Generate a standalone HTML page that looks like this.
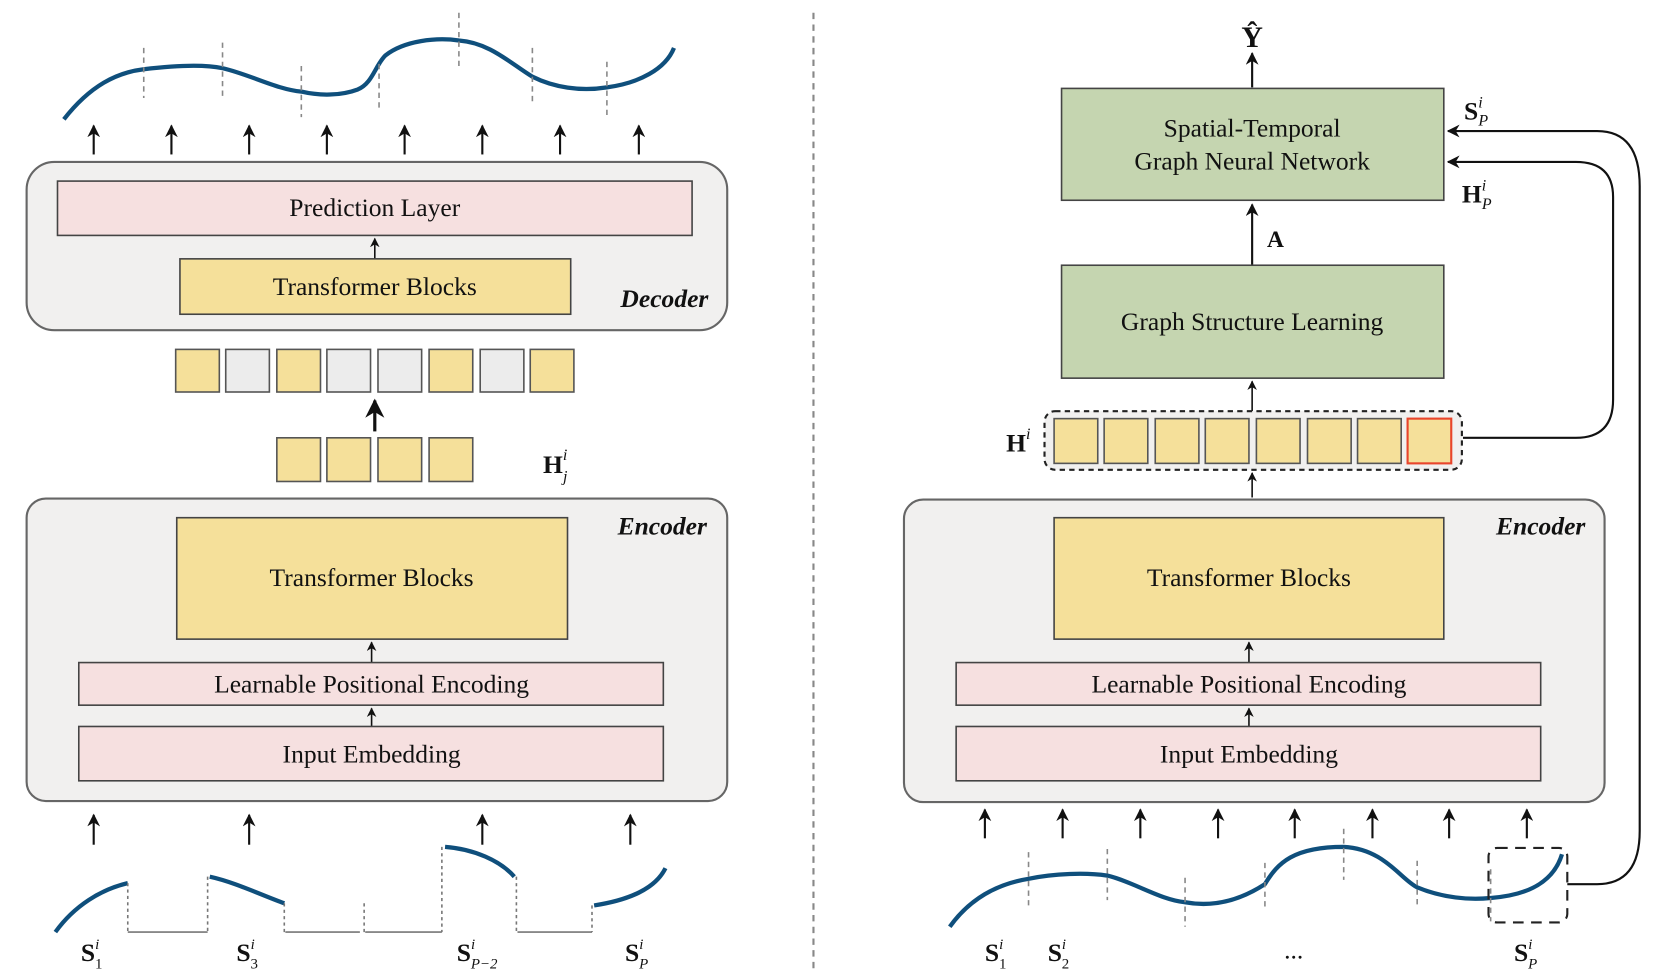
<!DOCTYPE html>
<html><head><meta charset="utf-8"><style>
html,body{margin:0;padding:0;background:#fff;}
svg{display:block;}
text{font-family:"Liberation Serif",serif;fill:#111;}
</style></head><body>
<svg width="1661" height="980" viewBox="0 0 1560 920" preserveAspectRatio="none" xmlns="http://www.w3.org/2000/svg">
<defs>
<marker id="ah" viewBox="0 0 10 10" refX="9" refY="5" markerWidth="6" markerHeight="6" orient="auto-start-reverse"><path d="M0,0 L10,5 L0,10 L3,5 z" fill="#111"/></marker>
</defs>
<g stroke="#111" stroke-width="2" fill="none">
<line x1="764" y1="12" x2="764" y2="912" stroke="#888" stroke-dasharray="6,5"/>
</g>

<path d="M60,112 C85,80 110,68 135,65 C160,62 190,60 209,64 C235,70 260,84 283,86 C300,90 320,90 336,84 C350,78 352,62 362,52 C380,38 410,35 431,38 C460,40 480,60 500,72 C520,82 545,86 570,82 C600,78 625,65 633,45" stroke="#0f4f7c" stroke-width="4" fill="none"/>
<g stroke="#888" stroke-width="1.5" stroke-dasharray="5,4">
<line x1="135" y1="45" x2="135" y2="92"/><line x1="209" y1="40" x2="209" y2="90"/><line x1="283" y1="62" x2="283" y2="110"/><line x1="356" y1="60" x2="356" y2="105"/><line x1="431" y1="12" x2="431" y2="65"/><line x1="500" y1="45" x2="500" y2="97"/><line x1="570" y1="58" x2="570" y2="112"/>
</g>
<g stroke="#111" stroke-width="2" marker-end="url(#ah)">
<line x1="88" y1="145" x2="88" y2="118"/><line x1="161" y1="145" x2="161" y2="118"/><line x1="234" y1="145" x2="234" y2="118"/><line x1="307" y1="145" x2="307" y2="118"/><line x1="380" y1="145" x2="380" y2="118"/><line x1="453" y1="145" x2="453" y2="118"/><line x1="526" y1="145" x2="526" y2="118"/><line x1="600" y1="145" x2="600" y2="118"/>
</g>
<rect x="25" y="152" width="658" height="158" rx="26" fill="#f1f0ef" stroke="#666" stroke-width="2"/>
<rect x="54" y="170" width="596" height="51" fill="#f6e0e0" stroke="#444" stroke-width="1.5"/>
<text x="352" y="203" font-size="24" text-anchor="middle">Prediction Layer</text>
<line x1="352" y1="243" x2="352" y2="224" stroke="#111" stroke-width="1.5" marker-end="url(#ah)"/>
<rect x="169" y="243" width="367" height="52" fill="#f5e09a" stroke="#444" stroke-width="1.5"/>
<text x="352" y="277" font-size="24" text-anchor="middle">Transformer Blocks</text>
<text x="624" y="288" font-size="24" font-style="italic" font-weight="bold" text-anchor="middle">Decoder</text>
<g stroke="#555" stroke-width="1.5">
<rect x="165" y="328" width="41" height="40" fill="#f5e09a"/><rect x="212" y="328" width="41" height="40" fill="#ececec"/><rect x="260" y="328" width="41" height="40" fill="#f5e09a"/><rect x="307" y="328" width="41" height="40" fill="#ececec"/><rect x="355" y="328" width="41" height="40" fill="#ececec"/><rect x="403" y="328" width="41" height="40" fill="#f5e09a"/><rect x="451" y="328" width="41" height="40" fill="#ececec"/><rect x="498" y="328" width="41" height="40" fill="#f5e09a"/>
<rect x="260" y="411" width="41" height="41" fill="#f5e09a"/><rect x="307" y="411" width="41" height="41" fill="#f5e09a"/><rect x="355" y="411" width="41" height="41" fill="#f5e09a"/><rect x="403" y="411" width="41" height="41" fill="#f5e09a"/>
</g>
<line x1="352" y1="405" x2="352" y2="376" stroke="#111" stroke-width="3" marker-end="url(#ah)"/>
<text x="510" y="444" font-size="24" font-weight="bold">H<tspan font-size="15" font-style="italic" font-weight="normal" dy="-12">i</tspan><tspan font-size="15" font-style="italic" font-weight="normal" dx="-4" dy="20">j</tspan></text>
<rect x="25" y="468" width="658" height="284" rx="18" fill="#f1f0ef" stroke="#666" stroke-width="2"/>
<rect x="166" y="486" width="367" height="114" fill="#f5e09a" stroke="#444" stroke-width="1.5"/>
<text x="349" y="550" font-size="24" text-anchor="middle">Transformer Blocks</text>
<line x1="349" y1="622" x2="349" y2="603" stroke="#111" stroke-width="1.5" marker-end="url(#ah)"/>
<rect x="74" y="622" width="549" height="40" fill="#f6e0e0" stroke="#444" stroke-width="1.5"/>
<text x="349" y="650" font-size="24" text-anchor="middle">Learnable Positional Encoding</text>
<line x1="349" y1="682" x2="349" y2="665" stroke="#111" stroke-width="1.5" marker-end="url(#ah)"/>
<rect x="74" y="682" width="549" height="51" fill="#f6e0e0" stroke="#444" stroke-width="1.5"/>
<text x="349" y="716" font-size="24" text-anchor="middle">Input Embedding</text>
<text x="622" y="502" font-size="24" font-style="italic" font-weight="bold" text-anchor="middle">Encoder</text>
<g stroke="#111" stroke-width="2" marker-end="url(#ah)">
<line x1="88" y1="793" x2="88" y2="765"/><line x1="234" y1="793" x2="234" y2="765"/><line x1="453" y1="793" x2="453" y2="765"/><line x1="592" y1="793" x2="592" y2="765"/>
</g>
<g stroke="#0f4f7c" stroke-width="4" fill="none">
<path d="M52,875 C70,850 95,835 120,829"/>
<path d="M197,823 C220,828 245,840 267,848"/>
<path d="M418,795 C445,797 470,808 483,823"/>
<path d="M558,850 C590,845 615,835 625,815"/>
</g>
<g stroke="#777" stroke-width="1.5" fill="none">
<line x1="120" y1="875" x2="195" y2="875"/><line x1="268" y1="875" x2="338" y2="875"/><line x1="343" y1="875" x2="415" y2="875"/><line x1="486" y1="875" x2="556" y2="875"/>
<g stroke-dasharray="3,3"><line x1="120" y1="829" x2="120" y2="875"/><line x1="195" y1="823" x2="195" y2="875"/><line x1="267" y1="848" x2="267" y2="875"/><line x1="342" y1="848" x2="342" y2="875"/><line x1="415" y1="795" x2="415" y2="875"/><line x1="485" y1="823" x2="485" y2="875"/><line x1="556" y1="850" x2="556" y2="875"/></g>
</g>
<g font-size="24" font-weight="bold">
<text x="76" y="902">S<tspan font-size="14" font-style="italic" font-weight="normal" dy="-11">i</tspan><tspan font-size="14" font-weight="normal" dx="-4" dy="18">1</tspan></text>
<text x="222" y="902">S<tspan font-size="14" font-style="italic" font-weight="normal" dy="-11">i</tspan><tspan font-size="14" font-weight="normal" dx="-4" dy="18">3</tspan></text>
<text x="429" y="902">S<tspan font-size="14" font-style="italic" font-weight="normal" dy="-11">i</tspan><tspan font-size="14" font-style="italic" font-weight="normal" dx="-4" dy="18">P−2</tspan></text>
<text x="587" y="902">S<tspan font-size="14" font-style="italic" font-weight="normal" dy="-11">i</tspan><tspan font-size="14" font-style="italic" font-weight="normal" dx="-4" dy="18">P</tspan></text>
</g>

<text x="1176" y="44" font-size="28" font-weight="bold" text-anchor="middle">Ŷ</text>
<line x1="1176" y1="82" x2="1176" y2="50" stroke="#111" stroke-width="2" marker-end="url(#ah)"/>
<rect x="997" y="83" width="359" height="105" fill="#c5d5b0" stroke="#444" stroke-width="1.5"/>
<text x="1176" y="128" font-size="24" text-anchor="middle">Spatial-Temporal</text>
<text x="1176" y="159" font-size="24" text-anchor="middle">Graph Neural Network</text>
<line x1="1176" y1="249" x2="1176" y2="192" stroke="#111" stroke-width="2" marker-end="url(#ah)"/>
<text x="1190" y="232" font-size="22" font-weight="bold">A</text>
<rect x="997" y="249" width="359" height="106" fill="#c5d5b0" stroke="#444" stroke-width="1.5"/>
<text x="1176" y="310" font-size="24" text-anchor="middle">Graph Structure Learning</text>
<line x1="1176" y1="386" x2="1176" y2="358" stroke="#111" stroke-width="1.5" marker-end="url(#ah)"/>
<text x="945" y="424" font-size="24" font-weight="bold">H<tspan font-size="15" font-style="italic" font-weight="normal" dy="-12">i</tspan></text>
<rect x="981" y="386" width="392" height="55" rx="10" fill="#f1f0ef" stroke="#222" stroke-width="2" stroke-dasharray="5,4"/>
<g stroke="#555" stroke-width="1.5" fill="#f5e09a">
<rect x="990" y="393" width="41" height="42"/><rect x="1037" y="393" width="41" height="42"/><rect x="1085" y="393" width="41" height="42"/><rect x="1132" y="393" width="41" height="42"/><rect x="1180" y="393" width="41" height="42"/><rect x="1228" y="393" width="41" height="42"/><rect x="1275" y="393" width="41" height="42"/><rect x="1322" y="393" width="41" height="42" stroke="#e8452c" stroke-width="2"/>
</g>
<line x1="1176" y1="467" x2="1176" y2="444" stroke="#111" stroke-width="1.5" marker-end="url(#ah)"/>
<rect x="849" y="469" width="658" height="284" rx="18" fill="#f1f0ef" stroke="#666" stroke-width="2"/>
<rect x="990" y="486" width="366" height="114" fill="#f5e09a" stroke="#444" stroke-width="1.5"/>
<text x="1173" y="550" font-size="24" text-anchor="middle">Transformer Blocks</text>
<line x1="1173" y1="622" x2="1173" y2="603" stroke="#111" stroke-width="1.5" marker-end="url(#ah)"/>
<rect x="898" y="622" width="549" height="40" fill="#f6e0e0" stroke="#444" stroke-width="1.5"/>
<text x="1173" y="650" font-size="24" text-anchor="middle">Learnable Positional Encoding</text>
<line x1="1173" y1="682" x2="1173" y2="665" stroke="#111" stroke-width="1.5" marker-end="url(#ah)"/>
<rect x="898" y="682" width="549" height="51" fill="#f6e0e0" stroke="#444" stroke-width="1.5"/>
<text x="1173" y="716" font-size="24" text-anchor="middle">Input Embedding</text>
<text x="1447" y="502" font-size="24" font-style="italic" font-weight="bold" text-anchor="middle">Encoder</text>
<g stroke="#111" stroke-width="2" marker-end="url(#ah)">
<line x1="925" y1="787" x2="925" y2="760"/><line x1="998" y1="787" x2="998" y2="760"/><line x1="1071" y1="787" x2="1071" y2="760"/><line x1="1144" y1="787" x2="1144" y2="760"/><line x1="1216" y1="787" x2="1216" y2="760"/><line x1="1289" y1="787" x2="1289" y2="760"/><line x1="1361" y1="787" x2="1361" y2="760"/><line x1="1434" y1="787" x2="1434" y2="760"/>
</g>
<path d="M892,870 C910,845 935,830 966,825 C990,820 1020,819 1040,822 C1065,828 1090,845 1113,847 C1140,852 1165,845 1188,830 C1200,810 1215,795 1262,795 C1300,797 1315,825 1331,833 C1355,843 1380,845 1400,843 C1440,840 1460,825 1467,802" stroke="#0f4f7c" stroke-width="4" fill="none"/>
<g stroke="#888" stroke-width="1.5" stroke-dasharray="5,4">
<line x1="966" y1="800" x2="966" y2="850"/><line x1="1040" y1="797" x2="1040" y2="845"/><line x1="1113" y1="824" x2="1113" y2="870"/><line x1="1188" y1="810" x2="1188" y2="855"/><line x1="1262" y1="778" x2="1262" y2="826"/><line x1="1331" y1="808" x2="1331" y2="852"/><line x1="1400" y1="816" x2="1400" y2="865"/>
</g>
<rect x="1398" y="796" width="74" height="70" rx="8" fill="none" stroke="#222" stroke-width="2" stroke-dasharray="10,7"/>
<path d="M1472,830 L1500,830 Q1540,830 1540,780 L1540,175 Q1540,123 1500,123 L1360,123" stroke="#111" stroke-width="2" fill="none" marker-end="url(#ah)"/>
<path d="M1374,411 L1480,411 Q1515,411 1515,375 L1515,185 Q1515,152 1480,152 L1360,152" stroke="#111" stroke-width="2" fill="none" marker-end="url(#ah)"/>
<text x="1375" y="112" font-size="24" font-weight="bold">S<tspan font-size="15" font-style="italic" font-weight="normal" dy="-11">i</tspan><tspan font-size="15" font-style="italic" font-weight="normal" dx="-4" dy="17">P</tspan></text>
<text x="1373" y="190" font-size="24" font-weight="bold">H<tspan font-size="15" font-style="italic" font-weight="normal" dy="-11">i</tspan><tspan font-size="15" font-style="italic" font-weight="normal" dx="-4" dy="17">P</tspan></text>
<g font-size="24" font-weight="bold">
<text x="925" y="902">S<tspan font-size="14" font-style="italic" font-weight="normal" dy="-11">i</tspan><tspan font-size="14" font-weight="normal" dx="-4" dy="18">1</tspan></text>
<text x="984" y="902">S<tspan font-size="14" font-style="italic" font-weight="normal" dy="-11">i</tspan><tspan font-size="14" font-weight="normal" dx="-4" dy="18">2</tspan></text>
<text x="1215" y="900" font-weight="normal" text-anchor="middle">...</text>
<text x="1422" y="902">S<tspan font-size="14" font-style="italic" font-weight="normal" dy="-11">i</tspan><tspan font-size="14" font-style="italic" font-weight="normal" dx="-4" dy="18">P</tspan></text>
</g>
</svg>
</body></html>
